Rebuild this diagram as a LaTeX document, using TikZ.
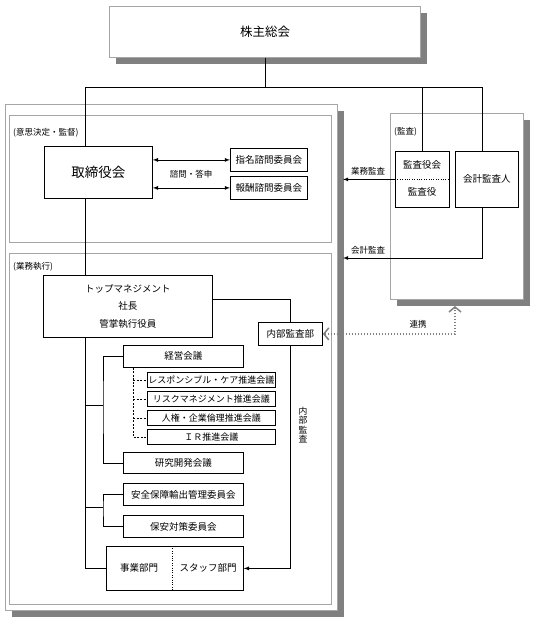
\documentclass[tikz,border=0pt]{standalone}
\usepackage{fontspec}
\setmainfont{Noto Sans CJK JP}
\usetikzlibrary{shadows,arrows.meta}

\tikzset{
	region/.style={draw=black!35, line width=1pt, fill=white, anchor=north west, inner sep=0pt},
	shadowed/.style={drop shadow={shadow xshift=6pt, shadow yshift=-6pt, fill=black!50, opacity=1}},
	unit/.style={draw, line width=0.8pt, fill=white, anchor=north west, inner sep=0pt, font=\fontsize{9.5}{11}\selectfont},
	subunit/.style={unit, minimum width=128pt, minimum height=15pt, font=\fontsize{9}{10}\selectfont},
	memo/.style={inner sep=0pt, font=\fontsize{8.5}{10}\selectfont},
	conn/.style={line width=0.8pt},
	subline/.style={line width=0.8pt, dash pattern=on 2pt off 1.5pt},
	renkei/.style={draw=black!50, line width=1.5pt, dash pattern=on 1.5pt off 1.5pt,
		{Straight Barb[length=5pt,width=12pt]}-{Straight Barb[length=5pt,width=12pt]}}
}

\begin{document}
\begin{tikzpicture}[x=1pt, y=-1pt]
	\useasboundingbox (0,0) rectangle (533,624);

	% Draw the frames
	\node[region, shadowed, minimum width=311pt, minimum height=51pt, font=\fontsize{12.5}{14}\selectfont] (gm) at (109,6) {株主総会};
	\node[region, shadowed, minimum width=332pt, minimum height=506pt] (outer) at (5,104) {};
	\node[region, minimum width=322pt, minimum height=127pt] (decide) at (9,115) {};
	\node[region, minimum width=322pt, minimum height=351pt] (exec) at (9,253) {};
	\node[region, shadowed, minimum width=133pt, minimum height=186pt] (audit) at (390,113) {};
	\node[memo, anchor=west] (decidelbl) at (13,133) {(意思決定・監督)};
	\node[memo, anchor=west] (execlbl) at (13,267) {(業務執行)};
	\node[memo, anchor=west] (auditlbl) at (394,132) {(監査)};

	% Draw the board and committees
	\node[unit, minimum width=108pt, minimum height=52pt, font=\fontsize{13.5}{15}\selectfont] (board) at (44,146) {取締役会};
	\node[unit, minimum width=77pt, minimum height=23pt] (nom) at (230,148) {指名諮問委員会};
	\node[unit, minimum width=77pt, minimum height=23pt] (rem) at (230,176) {報酬諮問委員会};
	\draw[conn, latex-latex] (board.east |- nom.west) -- (nom.west);
	\draw[conn, latex-latex] (board.east |- rem.west) -- (rem.west);
	\node[memo] (consult) at (191,174) {諮問・答申};

	% Draw the auditors
	\node[unit, minimum width=54pt, minimum height=56pt] (kansa) at (395,151) {};
	\node[inner sep=0pt, font=\fontsize{9.5}{11}\selectfont] (kansakai) at (422,165) {監査役会};
	\node[inner sep=0pt, font=\fontsize{9.5}{11}\selectfont] (kansayaku) at (422,192) {監査役};
	\draw[dotted] (kansa.west) -- (kansa.east);
	\node[unit, minimum width=63pt, minimum height=56pt] (auditor) at (455,151) {会計監査人};

	% Draw the top management and internal audit
	\node[unit, minimum width=169pt, minimum height=62pt, align=center, font=\fontsize{9.5}{17.5}\selectfont] (tm) at (43,275) {トップマネジメント\\社長\\管掌執行役員};
	\node[unit, minimum width=64pt, minimum height=23pt] (ia) at (258,322) {内部監査部};
	\draw[conn] ([yshift=7pt]tm.east) -| (ia.north);
	\node[align=center, inner sep=0pt, font=\fontsize{8.8}{9.3}\selectfont] (ialbl) at (303,425) {内\\部\\監\\査};
	\coordinate (link) at (455,306);
	\draw[renkei] (ia.east) -| (link);
	\node[memo] (renkeilbl) at (418,324) {連携};

	% Draw the lines from the general meeting
	\coordinate (busL) at (85,87);
	\coordinate (busR) at (482,87);
	\draw[conn] (gm.south) -- (gm.south |- busL);
	\draw[conn] (busL) -- (busR) -- (auditor.north -| busR);
	\draw[conn] (busL -| kansa.north) -- (kansa.north);
	\draw[conn] (busL) -- (busL |- board.north);
	\draw[conn] (busL |- board.south) -- (busL |- tm.north);

	% Draw the audit arrows
	\coordinate (edge) at (343,0);
	\coordinate (kaikei) at (482,258);
	\draw[conn, -latex] (kansa.west) -- (kansa.west -| edge);
	\node[memo, anchor=west] (gyomulbl) at (351,171) {業務監査};
	\draw[conn, -latex] (auditor.south -| busR) -- (kaikei) -- (kaikei -| edge);
	\node[memo, anchor=west] (kaikeilbl) at (351,250) {会計監査};

	% Draw the councils
	\node[unit, minimum width=120pt, minimum height=22pt] (keiei) at (123,345) {経営会議};
	\node[subunit] (rc) at (147,372) {レスポンシブル・ケア推進会議};
	\node[subunit] (risk) at (147,391) {リスクマネジメント推進会議};
	\node[subunit] (jinken) at (147,410) {人権・企業倫理推進会議};
	\node[subunit] (ir) at (147,429) {ＩＲ推進会議};
	\node[unit, minimum width=120pt, minimum height=21pt] (kenkyu) at (123,452) {研究開発会議};
	\node[unit, minimum width=120pt, minimum height=22pt] (anzen) at (123,483) {安全保障輸出管理委員会};
	\node[unit, minimum width=120pt, minimum height=22pt] (hoan) at (123,515) {保安対策委員会};

	% Draw the departments
	\node[unit, minimum width=137pt, minimum height=44pt] (dept) at (106,546) {};
	\node[inner sep=0pt, font=\fontsize{9.5}{11}\selectfont] (jigyo) at (139,568) {事業部門};
	\node[inner sep=0pt, font=\fontsize{9.5}{11}\selectfont] (staff) at (208,568) {スタッフ部門};
	\coordinate (divide) at (172,0);
	\draw[dotted] (dept.north -| divide) -- (dept.south -| divide);
	\draw[conn, -latex] (ia.south) |- (dept.east);

	% Draw the branches
	\draw[conn] (busL |- tm.south) |- (dept.west);
	\coordinate (br1) at (103,405);
	\draw[conn] (busL |- br1) -- (br1);
	\draw[conn] (keiei.west) -| (br1) |- (kenkyu.west);
	\coordinate (br2) at (103,507);
	\draw[conn] (busL |- br2) -- (br2);
	\draw[conn] (anzen.west) -| (br2) |- (hoan.west);
	\coordinate (subx) at (133,0);
	\draw[subline] (keiei.south -| subx) |- (ir.west);
	\draw[subline] (rc.west -| subx) -- (rc.west);
	\draw[subline] (risk.west -| subx) -- (risk.west);
	\draw[subline] (jinken.west -| subx) -- (jinken.west);

\end{tikzpicture}
\end{document}
